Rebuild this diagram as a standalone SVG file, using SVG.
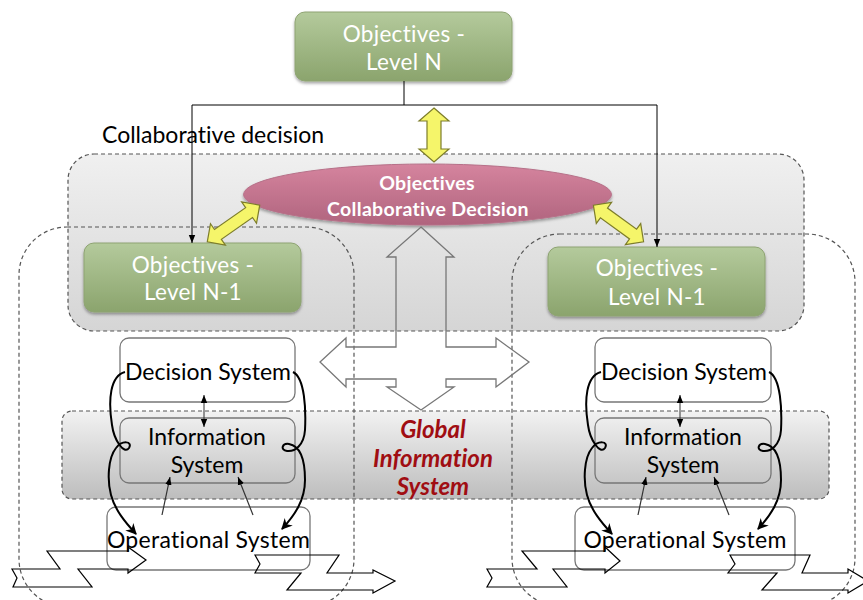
<svg xmlns="http://www.w3.org/2000/svg" width="863" height="600" viewBox="0 0 863 600">
<style>
text{font-family:Lato,"Open Sans","Liberation Sans",sans-serif;font-variant-ligatures:none}
.lbl{font-size:23px;fill:#000;text-anchor:middle}
.gtxt{font-size:22.5px;fill:#fff;text-anchor:middle;letter-spacing:0.3px}
.ptxt{font-size:19.5px;font-weight:bold;fill:#fff;text-anchor:middle;letter-spacing:0.3px}
.gis{font-size:24px;font-weight:bold;font-style:italic;fill:#a00d12;text-anchor:middle}
.dash{fill:none;stroke:#555;stroke-width:1.2;stroke-dasharray:4 3}
.sys{fill:none;stroke:#777;stroke-width:1.3}
.conn{fill:none;stroke:#000;stroke-width:1}
.thin{fill:none;stroke:#333;stroke-width:1.2}
.curve{fill:none;stroke:#000;stroke-width:2}
.yel{fill:#f5f56a;stroke:#7d7d2a;stroke-width:1.2}
.zig{fill:none;stroke:#000;stroke-width:1.2}
.big{fill:none;stroke:#777;stroke-width:1.3}
.green{fill:url(#gGreen);stroke:#8ea372;stroke-width:1;filter:url(#sh)}
</style>
<defs>
<linearGradient id="gGreen" x1="0" y1="0" x2="0" y2="1"><stop offset="0" stop-color="#b4ca9c"/><stop offset="1" stop-color="#8ba46d"/></linearGradient>
<linearGradient id="gPink" x1="0" y1="0" x2="0" y2="1"><stop offset="0" stop-color="#d5849e"/><stop offset="1" stop-color="#b0647e"/></linearGradient>
<linearGradient id="gCollab" x1="0" y1="0" x2="0" y2="1"><stop offset="0" stop-color="#f0f0f0"/><stop offset="1" stop-color="#d5d5d5"/></linearGradient>
<linearGradient id="gGis" x1="0" y1="0" x2="0" y2="1"><stop offset="0" stop-color="#f2f2f2"/><stop offset="1" stop-color="#bdbdbd"/></linearGradient>
<filter id="sh" x="-10%" y="-10%" width="120%" height="130%"><feDropShadow dx="0" dy="2" stdDeviation="1.5" flood-color="#000" flood-opacity="0.35"/></filter>
<marker id="ah" viewBox="0 0 10 10" refX="10" refY="5" markerWidth="8" markerHeight="8" markerUnits="userSpaceOnUse" orient="auto-start-reverse"><path d="M0,1 L10,5 L0,9 Z" fill="#000"/></marker>
<marker id="ah2" viewBox="0 0 10 10" refX="9" refY="5" markerWidth="11" markerHeight="11" markerUnits="userSpaceOnUse" orient="auto"><path d="M0,0 L10,5 L0,10 L3,5 Z" fill="#000"/></marker>
</defs>

<!-- panels -->
<g id="collab-panel">
<rect x="68" y="154" width="736" height="177" rx="26" fill="url(#gCollab)"/>
<rect x="68" y="154" width="736" height="177" rx="26" class="dash"/>
</g>
<g id="gis-panel">
<rect x="62" y="411" width="767" height="88" rx="10" fill="url(#gGis)"/>
<rect x="62" y="411" width="767" height="88" rx="10" class="dash"/>
<text class="gis" x="433" y="438">Global</text>
<text class="gis" x="433" y="467">Information</text>
<text class="gis" x="433" y="495">System</text>
</g>

<!-- regions -->
<g id="left-region"><rect x="19" y="227" width="335" height="380" rx="48" class="dash"/></g>
<g id="right-region"><rect x="512" y="234" width="343" height="372" rx="48" class="dash"/></g>

<text x="102" y="143" style="font-size:23px;fill:#000">Collaborative decision</text>

<!-- nodes -->
<g id="obj-n">
<rect x="295" y="12" width="217" height="69" rx="10" class="green"/>
<text class="gtxt" x="404" y="42">Objectives -</text>
<text class="gtxt" x="404" y="70">Level N</text>
</g>
<g id="obj-collab">
<ellipse cx="427.5" cy="194.5" rx="184" ry="30.5" fill="url(#gPink)" stroke="#b67088" stroke-width="1" filter="url(#sh)"/>
<text class="ptxt" x="427" y="190">Objectives</text>
<text class="ptxt" x="428" y="216">Collaborative Decision</text>
</g>
<g id="obj-n1-left">
<rect x="84" y="243" width="217" height="69" rx="10" class="green"/>
<text class="gtxt" x="193" y="273">Objectives -</text>
<text class="gtxt" x="193" y="300">Level N-1</text>
</g>
<g id="obj-n1-right">
<rect x="548" y="247" width="217" height="69" rx="10" class="green"/>
<text class="gtxt" x="657" y="276">Objectives -</text>
<text class="gtxt" x="657" y="305">Level N-1</text>
</g>

<g id="dec-left"><rect x="120" y="338" width="175" height="64" rx="9" class="sys" fill="#fff"/><text class="lbl" x="208" y="380">Decision System</text></g>
<g id="info-left"><rect x="120" y="418" width="175" height="65" rx="9" class="sys"/><text class="lbl" x="207" y="445">Information</text><text class="lbl" x="207" y="473">System</text></g>
<g id="op-left"><rect x="107" y="507" width="203" height="63" rx="9" class="sys"/><text class="lbl" x="208.5" y="548" style="letter-spacing:0.3px">Operational System</text></g>

<g id="dec-right"><rect x="595" y="338" width="176" height="64" rx="9" class="sys" fill="#fff"/><text class="lbl" x="684" y="380">Decision System</text></g>
<g id="info-right"><rect x="595" y="418" width="176" height="65" rx="9" class="sys"/><text class="lbl" x="683" y="445">Information</text><text class="lbl" x="683" y="473">System</text></g>
<g id="op-right"><rect x="575" y="507" width="220" height="63" rx="9" class="sys"/><text class="lbl" x="685" y="548" style="letter-spacing:0.3px">Operational System</text></g>

<!-- connectors -->
<g id="connectors">
<path class="conn" d="M404,81 V105 M192,105 H657"/>
<path class="conn" d="M192,105 V243" marker-end="url(#ah)"/>
<path class="conn" d="M657,105 V247" marker-end="url(#ah)"/>

<path class="yel" transform="translate(434,135) rotate(90)" d="M-27,0 L-14,-15 L-14,-7 L14,-7 L14,-15 L27,0 L14,15 L14,7 L-14,7 L-14,15 Z"/>
<path class="yel" transform="translate(233.5,223.5) rotate(-35)" d="M-32,0 L-19,-13 L-19,-6 L19,-6 L19,-13 L32,0 L19,13 L19,6 L-19,6 L-19,13 Z"/>
<path class="yel" transform="translate(618.5,223.5) rotate(36)" d="M-31,0 L-18,-13 L-18,-6 L18,-6 L18,-13 L31,0 L18,13 L18,6 L-18,6 L-18,13 Z"/>

<polygon class="big" points="421,227 454,257 446,257 446,347 496,347 496,338 529,362 496,387 496,379 446,379 446,387 454,387 421,410 387,387 396,387 396,379 346,379 346,387 320,362 346,338 346,347 396,347 396,257 387,257"/>

<path class="thin" d="M204,395 V427" marker-start="url(#ah)" marker-end="url(#ah)" style="stroke-width:1"/>
<path class="thin" d="M680,395 V427" marker-start="url(#ah)" marker-end="url(#ah)" style="stroke-width:1"/>
<path class="thin" d="M162,515 L170,477" marker-end="url(#ah)"/>
<path class="thin" d="M253,515 L238,477" marker-end="url(#ah)"/>
<path class="thin" d="M638,515 L646,477" marker-end="url(#ah)"/>
<path class="thin" d="M729,515 L714,477" marker-end="url(#ah)"/>

<path class="curve" d="M125,372 C110,376 108,400 112,425 C114,440 124,455 129,448 C133,441 122,440 116,448 C108,458 107,480 111,495 C115,510 125,522 136,534" marker-end="url(#ah2)"/>
<path class="curve" d="M293,372 C305,378 306,410 305,430 C304,445 295,452 287,451 C280,450 282,443 289,444 C300,446 305,460 305,480 C305,500 295,515 282,529" marker-end="url(#ah2)"/>
<path class="curve" transform="translate(476,0)" d="M125,372 C110,376 108,400 112,425 C114,440 124,455 129,448 C133,441 122,440 116,448 C108,458 107,480 111,495 C115,510 125,522 136,534" marker-end="url(#ah2)"/>
<path class="curve" transform="translate(476,0)" d="M293,372 C305,378 306,410 305,430 C304,445 295,452 287,451 C280,450 282,443 289,444 C300,446 305,460 305,480 C305,500 295,515 282,529" marker-end="url(#ah2)"/>

<polygon class="zig" points="12,569 60,569 47,551 128,551 128,547 146,560 128,573 128,569 78,569 92,587 13,587 17,578"/>
<polygon class="zig" points="255,555 339,555 327,573 373,573 373,570 395,581 373,593 373,590 287,590 301,573 255,573 260,564"/>
<polygon class="zig" points="487,569 537,569 522,551 605,551 605,547 620,561 605,573 605,569 553,569 567,587 487,587 492,578"/>
<polygon class="zig" points="730,555 810,555 802,573 848,573 848,569 868,581 848,593 848,590 762,590 777,573 728,573 735,564"/>
</g>
</svg>
